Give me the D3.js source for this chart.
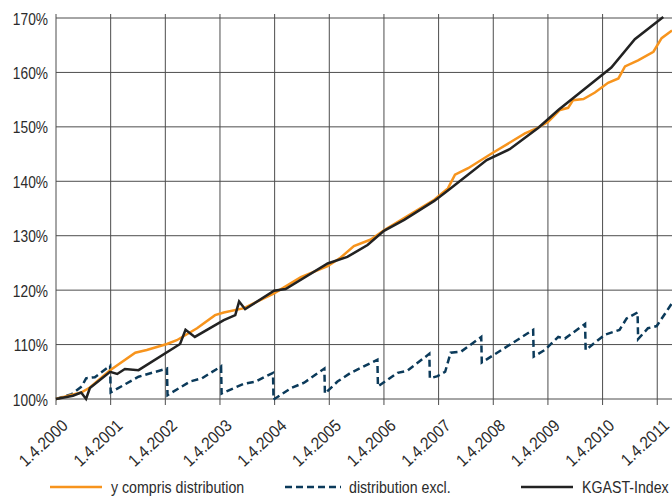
<!DOCTYPE html>
<html>
<head>
<meta charset="utf-8">
<script src="https://cdn.jsdelivr.net/npm/d3@7"></script>
<style>
  body { margin: 0; background: #fff; }
  text { font-family: "Liberation Sans", Arial, sans-serif; fill: #2b2b2b; }
</style>
</head>
<body>
<script>
'use strict';

// x values are decimal years (2000.25 = 1.4.2000), y values in %
let tickYears = [2000, 2001, 2002, 2003, 2004, 2005, 2006, 2007, 2008, 2009, 2010, 2011];
let yTicks = [100, 110, 120, 130, 140, 150, 160, 170];

let kgastX = [2000.25, 2000.56, 2000.71, 2000.80, 2000.87, 2001.24, 2001.37, 2001.51, 2001.76, 2002.52, 2002.62, 2002.79, 2003.32, 2003.53, 2003.60, 2003.71, 2004.24, 2004.45, 2005.22, 2005.58, 2005.95, 2006.25, 2006.62, 2007.17, 2007.42, 2008.13, 2008.55, 2009.07, 2009.44, 2010.41, 2010.84, 2011.36];
let kgastY = [100, 100.6, 101.2, 100.0, 102, 105, 104.6, 105.5, 105.3, 110.1, 112.7, 111.4, 114.5, 115.4, 117.9, 116.5, 119.9, 120.2, 124.9, 126.1, 128.3, 130.9, 132.9, 136.4, 138.3, 143.9, 145.9, 149.8, 153.1, 160.9, 166.1, 170.2];

let inclX = [2000.25, 2000.71, 2000.87, 2001.24, 2001.70, 2001.91, 2002.28, 2002.46, 2002.83, 2003.16, 2003.32, 2003.69, 2004.24, 2004.73, 2005.22, 2005.46, 2005.70, 2006.01, 2006.25, 2007.17, 2007.42, 2007.55, 2007.79, 2008.22, 2008.83, 2009.04, 2009.25, 2009.47, 2009.62, 2009.71, 2009.90, 2010.11, 2010.35, 2010.54, 2010.66, 2010.90, 2011.18, 2011.33, 2011.52];
let inclY = [100, 101.2, 102.1, 105.3, 108.5, 109, 110.1, 110.8, 113, 115.4, 115.9, 116.7, 119.4, 122.4, 124.4, 126, 128.1, 129.3, 131, 136.6, 138.7, 141.2, 142.4, 145.1, 148.8, 149.7, 150.9, 153.1, 153.5, 154.9, 155.1, 156.3, 158.1, 158.9, 161.1, 162.2, 163.8, 166.3, 167.7];

let exclX = [2000.25, 2000.54, 2000.72, 2000.80, 2000.96, 2001.24, 2001.25, 2001.76, 2002.28, 2002.29, 2002.70, 2002.92, 2003.27, 2003.28, 2003.32, 2003.69, 2003.90, 2004.22, 2004.23, 2004.55, 2004.79, 2005.16, 2005.17, 2005.40, 2005.64, 2006.13, 2006.14, 2006.50, 2006.68, 2007.08, 2007.09, 2007.23, 2007.37, 2007.47, 2007.66, 2008.03, 2008.04, 2008.98, 2008.99, 2009.19, 2009.44, 2009.56, 2009.93, 2009.94, 2010.29, 2010.56, 2010.69, 2010.89, 2010.90, 2011.08, 2011.24, 2011.52];
let exclY = [100, 100.9, 102.3, 103.8, 104, 106.1, 101.2, 104.1, 105.6, 100.7, 103.2, 103.8, 106, 101, 101.2, 102.8, 103.2, 104.8, 99.9, 102, 103, 105.6, 101, 103.2, 104.8, 107.2, 102.3, 104.8, 105.2, 108.3, 103.8, 104.2, 105, 108.5, 108.7, 111.4, 106.7, 112.7, 107.8, 109, 111.4, 111.1, 113.8, 109, 111.8, 112.7, 114.8, 115.9, 111, 113, 113.4, 117.6];

let seriesNames = ['y compris distribution', 'distribution excl.', 'KGAST-Index'];
let seriesColors = ['#f7941d', '#0b3a5a', '#222222'];

let width = 672, height = 496;
let squeeze = 0.86; // condensed look

let svg = d3.select('body').append('svg')
	.attr('width', width)
	.attr('height', height);

let x = d3.scaleLinear().domain([2000.25, 2011.52]).range([56, 672]);
let y = d3.scaleLinear().domain([100, 170]).range([399, 18]);

// grid
svg.append('g')
	.selectAll('line')
	.data(yTicks)
	.join('line')
	.attr('x1', 56).attr('x2', width)
	.attr('y1', d => y(d)).attr('y2', d => y(d))
	.attr('stroke', '#4d4d4d').attr('stroke-width', 1);

svg.append('g')
	.selectAll('line')
	.data(tickYears)
	.join('line')
	.attr('x1', d => x(d + 0.25)).attr('x2', d => x(d + 0.25))
	.attr('y1', y(170) - 4).attr('y2', y(100) + 6)
	.attr('stroke', '#4d4d4d').attr('stroke-width', 1);

// y labels
svg.append('g')
	.selectAll('text')
	.data(yTicks)
	.join('text')
	.attr('transform', d => `translate(48,${y(d) + 6.5}) scale(${squeeze},1)`)
	.attr('text-anchor', 'end')
	.style('font-size', '16px')
	.text(d => d + '%');

// x labels
svg.append('g')
	.selectAll('text')
	.data(tickYears)
	.join('text')
	.attr('transform', d => `translate(${x(d + 0.25) + 13},427) rotate(-43) scale(0.9,1)`)
	.attr('text-anchor', 'end')
	.style('font-size', '17px')
	.text(d => '1.4.' + d);

let line = d3.line().x(d => x(d[0])).y(d => y(d[1]));
let plot = svg.append('g');

plot.append('path')
	.datum(d3.zip(exclX, exclY))
	.attr('d', line)
	.attr('fill', 'none')
	.attr('stroke', seriesColors[1])
	.attr('stroke-width', 2.5)
	.attr('stroke-dasharray', '7,4');

plot.append('path')
	.datum(d3.zip(inclX, inclY))
	.attr('d', line)
	.attr('fill', 'none')
	.attr('stroke', seriesColors[0])
	.attr('stroke-width', 2.5);

plot.append('path')
	.datum(d3.zip(kgastX, kgastY))
	.attr('d', line)
	.attr('fill', 'none')
	.attr('stroke', seriesColors[2])
	.attr('stroke-width', 2.5);

// legend
let legendX = [50, 285, 521];
let legend = svg.append('g')
	.selectAll('g')
	.data(seriesNames)
	.join('g')
	.attr('transform', (d, i) => `translate(${legendX[i]},487)`);

legend.append('line')
	.attr('x1', 0).attr('x2', (d, i) => i == 1 ? 56 : 52)
	.attr('y1', 0).attr('y2', 0)
	.attr('stroke', (d, i) => seriesColors[i])
	.attr('stroke-width', 2.5)
	.attr('stroke-dasharray', (d, i) => i == 1 ? '7,4' : null);

legend.append('text')
	.attr('transform', (d, i) => `translate(${i == 1 ? 64 : 61},5.5) scale(${squeeze},1)`)
	.style('font-size', '16.5px')
	.text(d => d);
</script>
</body>
</html>
